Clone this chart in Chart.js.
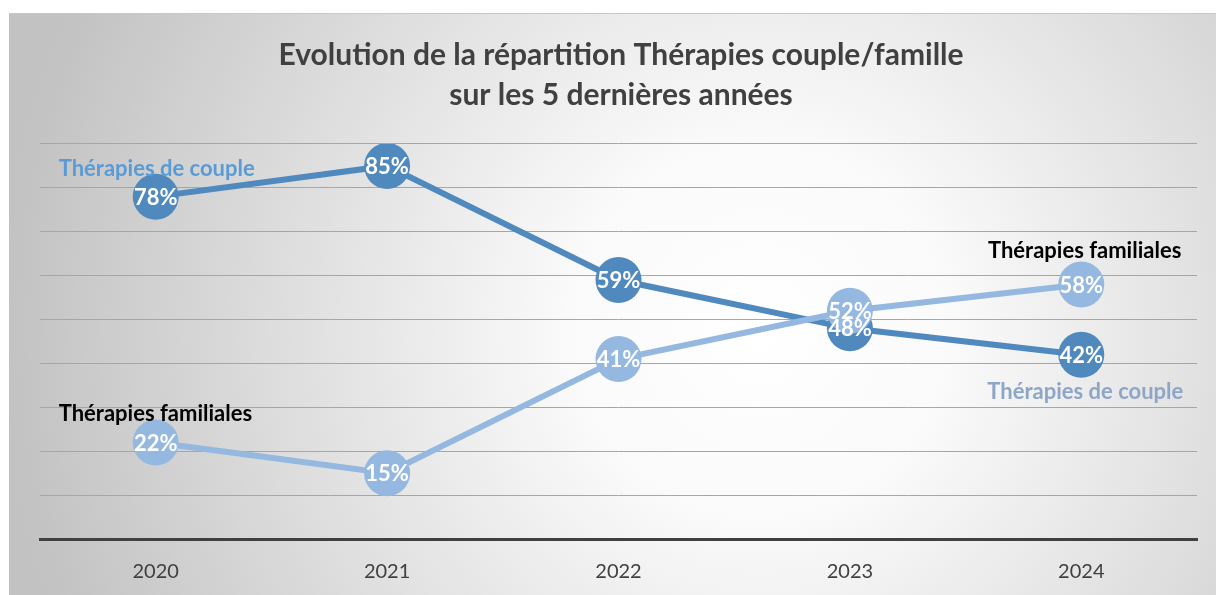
<!DOCTYPE html>
<html>
<head>
<meta charset="utf-8">
<script src="https://cdn.jsdelivr.net/npm/chart.js@4/dist/chart.umd.min.js"></script>
<style>
  html, body { margin: 0; padding: 0; background: #fff; }
  #wrap { width: 1220px; height: 595px; }
</style>
</head>
<body>
<div id="wrap"><canvas id="graph"></canvas></div>
<script>
// données
const annees = ['2020', '2021', '2022', '2023', '2024'];
const couple = [78, 85, 59, 48, 42];
const familiales = [22, 15, 41, 52, 58];

const titre = ['Evolution de la répartition Thérapies couple/famille', 'sur les 5 dernières années'];

const couleurCouple = '#4f89be';
const couleurFamille = '#95b8e1';
const police = 'Lato, "Open Sans", sans-serif';

// étiquettes libres posées sur le graphique (index de catégorie + valeur)
const etiquettes = [
    { texte: 'Thérapies de couple', x: 0, dx: -97, y: 84.3, align: 'left', color: '#5b9bd5' },
    { texte: 'Thérapies familiales', x: 0, dx: -97, y: 28.4, align: 'left', color: '#000000' },
    { texte: 'Thérapies familiales', x: 4, dx: 100, y: 65.7, align: 'right', color: '#000000' },
    { texte: 'Thérapies de couple', x: 4, dx: 102, y: 33.6, align: 'right', color: '#8ea6c6' }
];

// fond dégradé façon Excel
const fond = {
    id: 'fond',
    beforeDraw(chart) {
        const ctx = chart.ctx;
        ctx.save();
        ctx.fillStyle = '#ffffff';
        ctx.fillRect(0, 0, chart.width, chart.height);
        const g = ctx.createRadialGradient(760, 330, 0, 760, 330, 760);
        g.addColorStop(0, '#ffffff');
        g.addColorStop(0.25, '#fafafa');
        g.addColorStop(1, '#c2c2c2');
        ctx.fillStyle = g;
        ctx.fillRect(9, 13, 1207, chart.height - 13);
        ctx.strokeStyle = '#c8c8c8';
        ctx.lineWidth = 1;
        ctx.beginPath();
        ctx.moveTo(9, 13.5);
        ctx.lineTo(1216, 13.5);
        ctx.stroke();
        ctx.restore();
    }
};

// valeurs en % au centre des ronds + étiquettes des séries
const labels = {
    id: 'labels',
    afterDatasetsDraw(chart) {
        const ctx = chart.ctx;
        ctx.save();
        ctx.textAlign = 'center';
        ctx.textBaseline = 'middle';
        ctx.font = 'bold 22px ' + police;
        ctx.fillStyle = '#ffffff';
        chart.data.datasets.forEach((ds, i) => {
            const meta = chart.getDatasetMeta(i);
            meta.data.forEach((pt, j) => {
                ctx.fillText(ds.data[j] + '%', pt.x, pt.y + 1);
            });
        });
        const sx = chart.scales.x, sy = chart.scales.y;
        ctx.font = 'bold 22px ' + police;
        etiquettes.forEach(e => {
            ctx.textAlign = e.align;
            ctx.fillStyle = e.color;
            ctx.fillText(e.texte, sx.getPixelForValue(e.x) + e.dx, sy.getPixelForValue(e.y));
        });
        ctx.restore();
    }
};

new Chart(document.getElementById('graph'), {
    type: 'line',
    data: {
        labels: annees,
        datasets: [{
            label: 'Thérapies de couple',
            data: couple,
            borderColor: couleurCouple,
            backgroundColor: couleurCouple,
            borderWidth: 6,
            pointRadius: 23,
            pointHoverRadius: 23,
            pointBorderWidth: 0,
            order: 2
        }, {
            label: 'Thérapies familiales',
            data: familiales,
            borderColor: couleurFamille,
            backgroundColor: couleurFamille,
            borderWidth: 6,
            pointRadius: 23,
            pointHoverRadius: 23,
            pointBorderWidth: 0,
            order: 1
        }]
    },
    options: {
        responsive: true,
        maintainAspectRatio: false,
        animation: false,
        layout: { padding: { left: 40, right: 18, top: 0, bottom: 0 } },
        plugins: {
            legend: { display: false },
            tooltip: { enabled: false },
            title: {
                display: true,
                text: titre,
                color: '#404040',
                font: { family: police, size: 30, weight: 'bold', lineHeight: 1.333 },
                padding: { top: 35, bottom: 29 }
            }
        },
        scales: {
            x: {
                offset: true,
                grid: { display: false },
                border: { display: true, color: '#404040', width: 3 },
                ticks: { color: '#404040', font: { family: police, size: 20 }, padding: 13 },
                afterFit(scale) { scale.height = 56; }
            },
            y: {
                min: 0,
                max: 90,
                ticks: { display: false, stepSize: 10 },
                border: { display: false },
                grid: {
                    color: ctx => ctx.tick.value === 0 ? 'rgba(0,0,0,0)' : '#a6a6a6',
                    lineWidth: 1,
                    drawTicks: false
                }
            }
        }
    },
    plugins: [fond, labels]
});
</script>
</body>
</html>
